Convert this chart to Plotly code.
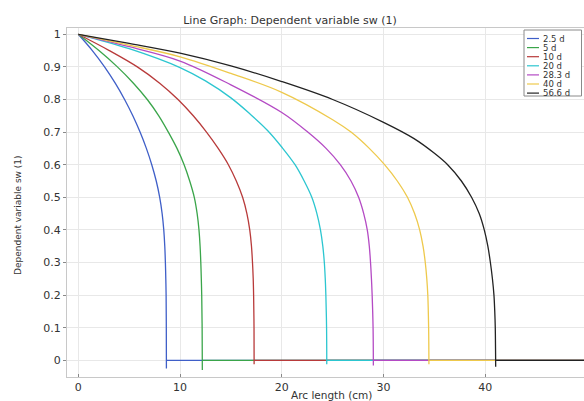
import plotly.graph_objects as go

# ---- data ----
series_names = ["2.5 d", "5 d", "10 d", "20 d", "28.3 d", "40 d", "56.6 d"]
series_colors = ["#3f5fc8", "#3aa54a", "#b83a3a", "#2cc6d0", "#b44ac4", "#eec94c", "#222222"]

x_2_5d = [0, 1.38, 2.58, 3.63, 4.55, 5.36, 6.07, 6.69, 7.22, 7.66, 8.0, 8.24, 8.4, 8.5, 8.56, 8.6, 8.63, 8.65, 8.66]
sw_2_5d = [1, 0.95, 0.9, 0.85, 0.8, 0.75, 0.7, 0.65, 0.6, 0.55, 0.5, 0.45, 0.4, 0.35, 0.3, 0.25, 0.2, 0.1, -0.025]

x_5d = [0, 2.03, 3.84, 5.42, 6.78, 7.91, 8.85, 9.7, 10.4, 10.95, 11.4, 11.68, 11.86, 11.97, 12.04, 12.09, 12.13, 12.17, 12.19]
sw_5d = [1, 0.95, 0.9, 0.85, 0.8, 0.75, 0.7, 0.65, 0.6, 0.55, 0.5, 0.45, 0.4, 0.35, 0.3, 0.25, 0.2, 0.1, -0.03]

x_10d = [0, 3.05, 5.8, 8.0, 9.8, 11.3, 12.6, 13.75, 14.75, 15.53, 16.15, 16.57, 16.85, 17.02, 17.12, 17.19, 17.23, 17.27, 17.28]
sw_10d = [1, 0.95, 0.9, 0.85, 0.8, 0.75, 0.7, 0.65, 0.6, 0.55, 0.5, 0.45, 0.4, 0.35, 0.3, 0.25, 0.2, 0.1, -0.012]

x_20d = [0, 5, 10, 12.5, 15.0, 16.9, 18.6, 20.05, 21.3, 22.2, 22.95, 23.45, 23.8, 24.03, 24.18, 24.27, 24.33, 24.40, 24.42]
sw_20d = [1, 0.956, 0.898, 0.857, 0.805, 0.755, 0.705, 0.652, 0.6, 0.55, 0.5, 0.45, 0.4, 0.35, 0.3, 0.25, 0.2, 0.1, -0.012]

x_28_3d = [0, 5, 10, 15, 20, 22.55, 24.35, 25.75, 26.8, 27.55, 28.05, 28.4, 28.6, 28.72, 28.81, 28.88, 28.97, 29.0]
sw_28_3d = [1, 0.962, 0.918, 0.845, 0.76, 0.7, 0.65, 0.6, 0.55, 0.5, 0.45, 0.4, 0.35, 0.3, 0.25, 0.2, 0.1, -0.016]

x_40d = [0, 5, 10, 15, 20, 25, 26.8, 28.6, 30.1, 31.35, 32.35, 33.05, 33.55, 33.88, 34.1, 34.25, 34.35, 34.43, 34.46]
sw_40d = [1, 0.967, 0.931, 0.88, 0.822, 0.738, 0.7, 0.65, 0.6, 0.55, 0.5, 0.45, 0.4, 0.35, 0.3, 0.25, 0.2, 0.1, -0.012]

x_56_6d = [0, 5, 10, 15, 20, 25, 30, 33, 35, 36.3, 37.65, 38.65, 39.4, 39.9, 40.25, 40.5, 40.7, 40.85, 40.93, 40.98, 41.02]
sw_56_6d = [1, 0.972, 0.942, 0.903, 0.855, 0.8, 0.73, 0.68, 0.635, 0.6, 0.55, 0.5, 0.45, 0.4, 0.35, 0.3, 0.25, 0.2, 0.15, 0.1, -0.02]

# where each series sits at sw = 0 after its front, up to the end of the domain
zero_start = [8.70, 12.23, 17.32, 24.46, 29.04, 34.50, 41.06]
x_end = 50

series_x = [x_2_5d, x_5d, x_10d, x_20d, x_28_3d, x_40d, x_56_6d]
series_y = [sw_2_5d, sw_5d, sw_10d, sw_20d, sw_28_3d, sw_40d, sw_56_6d]

x_ticks = [0, 10, 20, 30, 40]
y_ticks = [0, 0.1, 0.2, 0.3, 0.4, 0.5, 0.6, 0.7, 0.8, 0.9, 1]
y_tick_labels = ["0", "0.1", "0.2", "0.3", "0.4", "0.5", "0.6", "0.7", "0.8", "0.9", "1"]

# ---- figure ----
fig = go.Figure()
for name, color, xs, ys, z0 in zip(series_names, series_colors, series_x, series_y, zero_start):
    fig.add_trace(go.Scatter(
        x=xs, y=ys, name=name, mode="lines", legendgroup=name,
        line=dict(color=color, width=1.3, shape="spline", smoothing=1.0),
        showlegend=False,
    ))
    fig.add_trace(go.Scatter(
        x=[z0, x_end], y=[0, 0], name=name, mode="lines", legendgroup=name,
        line=dict(color=color, width=1.3),
        showlegend=False,
    ))

W, H = 584, 401
ml, mr, mt, mb = 67, 0, 28, 24
pw, ph = W - ml - mr, H - mt - mb


def px_x(p):
    return (p - ml) / pw


def px_y(p):
    return (H - mb - p) / ph


fig.update_layout(
    width=W, height=H,
    margin=dict(l=ml, r=mr, t=mt, b=mb, autoexpand=False),
    paper_bgcolor="white", plot_bgcolor="white",
    font=dict(family="DejaVu Sans", size=11, color="#333333"),
    title=dict(text="Line Graph: Dependent variable sw (1)", x=290 / W, xref="container",
               xanchor="center", y=1 - 20 / H, yref="container", yanchor="middle",
               font=dict(size=11, color="#333333")),
    xaxis=dict(range=[-1.11, 49.7], tickvals=x_ticks, showgrid=True, gridcolor="#e8e8e8",
               zeroline=False, showline=True, linecolor="#c8c8c8", mirror=True,
               ticks="inside", ticklen=3, tickcolor="#888888", automargin=False,
               ticklabelstandoff=0),
    yaxis=dict(range=[-0.0512, 1.0193], tickvals=y_ticks, ticktext=y_tick_labels,
               showgrid=True, gridcolor="#e8e8e8", zeroline=False, showline=True,
               linecolor="#c8c8c8", mirror=True, ticks="outside", ticklen=3,
               tickcolor="#888888", automargin=False),
)

# axis titles
fig.add_annotation(text="Arc length (cm)", xref="paper", yref="paper",
                   x=px_x(331), y=px_y(395), xanchor="center", yanchor="middle",
                   showarrow=False, font=dict(size=10.5, color="#333333"))
fig.add_annotation(text="Dependent variable sw (1)", xref="paper", yref="paper",
                   x=px_x(18), y=px_y(215), xanchor="center", yanchor="middle",
                   textangle=-90, showarrow=False, font=dict(size=9, color="#333333"))

# ---- legend (box with colored line samples, built from the series lists) ----
fig.add_shape(type="rect", xref="paper", yref="paper",
              x0=px_x(524), x1=px_x(581.5), y0=px_y(96), y1=px_y(30),
              line=dict(color="#8a8a8a", width=1), fillcolor="white", layer="above")
for i, (name, color) in enumerate(zip(series_names, series_colors)):
    yc = 38.5 + i * 9.1
    fig.add_shape(type="line", xref="paper", yref="paper",
                  x0=px_x(527), x1=px_x(539), y0=px_y(yc), y1=px_y(yc),
                  line=dict(color=color, width=1.2), layer="above")
    fig.add_annotation(text=name, xref="paper", yref="paper", x=px_x(541), y=px_y(yc),
                       xanchor="left", yanchor="middle", showarrow=False,
                       font=dict(size=8.5, color="#333333"))

fig.write_html("out.html", config={"displayModeBar": False},
               post_script="document.body.style.margin='0';")
